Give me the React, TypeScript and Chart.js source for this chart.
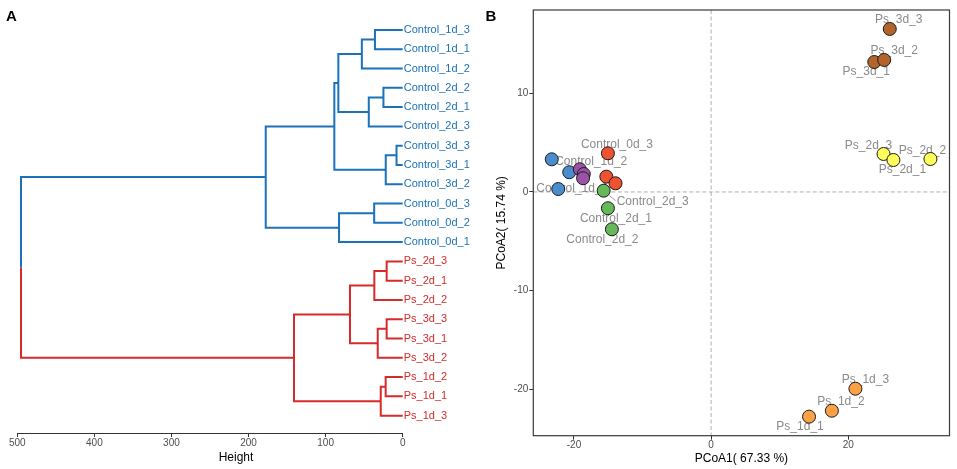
import React, { useEffect, useRef } from 'react';
import { Chart, registerables } from 'chart.js';

Chart.register(...registerables);

const FONT = '"Liberation Sans", Arial, Helvetica, sans-serif';

// ---------- Panel A: hierarchical clustering ----------
const leafLabels = [
  'Control_1d_3', 'Control_1d_1', 'Control_1d_2',
  'Control_2d_2', 'Control_2d_1', 'Control_2d_3',
  'Control_3d_3', 'Control_3d_1', 'Control_3d_2',
  'Control_0d_3', 'Control_0d_2', 'Control_0d_1',
  'Ps_2d_3', 'Ps_2d_1', 'Ps_2d_2',
  'Ps_3d_3', 'Ps_3d_1', 'Ps_3d_2',
  'Ps_1d_2', 'Ps_1d_1', 'Ps_1d_3',
];
// hclust-style merge table: negative = leaf (1-based), positive = earlier merge (1-based)
const mergeLeft = [-1, 1, -4, 3, 2, -7, 6, 5, -10, 9, 8, -13, 12, -16, 14, 13, -19, 17, 16, 11];
const mergeRight = [-2, -3, -5, -6, 4, -8, -9, 7, -11, -12, 10, -14, -15, -17, -18, 15, -20, -21, 18, 19];
const mergeHeight = [36, 53, 25, 44, 83.5, 8, 22, 88.7, 37, 82.6, 177.7, 20.8, 36.8, 20.8, 32.4, 68.4, 22.1, 28.5, 141, 495.2];
const heightTicks = [0, 100, 200, 300, 400, 500];

// ---------- Panel B: PCoA ----------
const pcoaSamples = [
  'Control_0d_1', 'Control_0d_2', 'Control_0d_3',
  'Control_1d_1', 'Control_1d_2', 'Control_1d_3',
  'Control_2d_1', 'Control_2d_2', 'Control_2d_3',
  'Control_3d_1', 'Control_3d_2', 'Control_3d_3',
  'Ps_1d_1', 'Ps_1d_2', 'Ps_1d_3',
  'Ps_2d_3', 'Ps_2d_1', 'Ps_2d_2',
  'Ps_3d_1', 'Ps_3d_2', 'Ps_3d_3',
];
const pcoa1 = [
  -15.28, -13.94, -15.05,
  -22.29, -20.69, -23.24,
  -15.05, -14.47, -15.67,
  -19.15, -18.57, -18.67,
  14.28, 17.61, 21.04,
  25.14, 26.58, 31.98,
  23.79, 25.24, 26.05,
];
const pcoa2 = [
  1.55, 0.88, 3.92,
  0.3, 2.0, 3.31,
  -1.65, -3.78, 0.13,
  2.3, 1.82, 1.39,
  -22.77, -22.17, -19.94,
  3.85, 3.24, 3.34,
  13.17, 13.38, 16.52,
];
const groupNames = ['Control_0d', 'Control_1d', 'Control_2d', 'Control_3d', 'Ps_1d', 'Ps_2d', 'Ps_3d'];
const xTicks = [-20, 0, 20];
const yTicks = [-20, -10, 0, 10];

// ---------- styles / layout ----------
const clusterColors = ['#1a72bb', '#d52b2b'];
const groupColors = ['#ef5230', '#4b8dcc', '#67b85a', '#9a52a6', '#fca146', '#ffff5a', '#b5632d'];
// repelled label offsets in pixels [dx, dy, drawSegment]
const labelNudge: Record<string, [number, number, boolean]> = {
  Control_0d_3: [9, -9, false],
  Control_1d_2: [22, -11, false],
  Control_1d_1: [14, -0.7, false],
  Control_2d_3: [49, 11, true],
  Control_2d_1: [8, 10, false],
  Control_2d_2: [-9.5, 10, false],
  Ps_3d_3: [9, -9, false],
  Ps_3d_2: [10, -9.3, false],
  Ps_3d_1: [-8, 9.7, false],
  Ps_2d_3: [-15, -8.3, false],
  Ps_2d_2: [-8, -8.3, false],
  Ps_2d_1: [9, 10, false],
  Ps_1d_3: [10, -8.7, false],
  Ps_1d_2: [9, -9, false],
  Ps_1d_1: [-9, 10, false],
};

const clusterOf = (name: string) => (name.startsWith('Control') ? 0 : 1);

function buildBranches() {
  const ny: number[] = [];
  const nh: number[] = [];
  const nc: number[] = [];
  const segs: { x: number; y: number | null }[][] = [[], []];
  const info = (r: number) =>
    r < 0
      ? { y: -r - 1, h: 0, c: clusterOf(leafLabels[-r - 1]) }
      : { y: ny[r - 1], h: nh[r - 1], c: nc[r - 1] };
  mergeHeight.forEach((h, k) => {
    const a = info(mergeLeft[k]);
    const b = info(mergeRight[k]);
    const y = (a.y + b.y) / 2;
    [a, b].forEach((ch) => {
      segs[ch.c].push({ x: h, y }, { x: h, y: ch.y }, { x: ch.h, y: ch.y }, { x: h, y: null });
    });
    ny.push(y);
    nh.push(h);
    nc.push(a.c === b.c ? a.c : -1);
  });
  return segs;
}

export default function App() {
  const refA = useRef<HTMLCanvasElement>(null);
  const refB = useRef<HTMLCanvasElement>(null);

  useEffect(() => {
    document.body.style.margin = '0';
    Chart.defaults.font.family = FONT;

    const branches = buildBranches();

    const heightTitle = {
      id: 'heightTitle',
      afterDraw(chart: any) {
        const { ctx } = chart;
        ctx.save();
        ctx.font = `12px ${FONT}`;
        ctx.fillStyle = '#000';
        ctx.textAlign = 'center';
        ctx.textBaseline = 'middle';
        ctx.fillText('Height', 236, 458);
        ctx.restore();
      },
    };

    const chartA = new Chart(refA.current!, {
      type: 'scatter',
      data: {
        datasets: branches.map((pts, c) => ({
          data: pts,
          showLine: true,
          borderColor: clusterColors[c],
          borderWidth: 2,
          borderJoinStyle: 'miter',
          pointRadius: 0,
          pointHoverRadius: 0,
          spanGaps: false,
          clip: false,
        })) as any,
      },
      options: {
        animation: false,
        responsive: false,
        events: [],
        layout: { padding: { left: 17.3, top: 10.7, right: 0, bottom: 0 } },
        plugins: { legend: { display: false }, tooltip: { enabled: false } },
        scales: {
          x: {
            type: 'linear',
            reverse: true,
            min: 0,
            max: 500,
            afterBuildTicks: (s: any) => {
              s.ticks = heightTicks.map((v) => ({ value: v }));
            },
            afterFit: (s: any) => {
              s.height = 36;
            },
            border: { display: true, color: '#333', width: 1 },
            grid: { drawOnChartArea: false, drawTicks: true, tickLength: 4, tickColor: '#333' },
            ticks: { color: '#4d4d4d', font: { size: 10 }, padding: 0, maxRotation: 0 },
          },
          y: {
            type: 'linear',
            position: 'right',
            reverse: true,
            min: -1,
            max: 20.9,
            afterBuildTicks: (s: any) => {
              s.ticks = leafLabels.map((_, i) => ({ value: i }));
            },
            afterFit: (s: any) => {
              s.width = 75.3;
            },
            border: { display: false },
            grid: { display: false, drawTicks: false },
            ticks: {
              autoSkip: false,
              padding: 1,
              font: { size: 11 },
              color: (ctx: any) => clusterColors[clusterOf(leafLabels[ctx.tick.value])],
              callback: (v: any) => leafLabels[v],
            },
          },
        },
      },
      plugins: [heightTitle],
    });

    const pcoaDecor = {
      id: 'pcoaDecor',
      beforeDatasetsDraw(chart: any) {
        const { ctx, chartArea: ca, scales } = chart;
        const xs = scales.x;
        const ys = scales.y;
        ctx.save();
        // zero reference lines
        ctx.setLineDash([4, 2.5]);
        ctx.strokeStyle = '#a6a6a6';
        ctx.lineWidth = 0.9;
        const x0 = xs.getPixelForValue(0);
        const y0 = ys.getPixelForValue(0);
        ctx.beginPath();
        ctx.moveTo(x0, ca.top);
        ctx.lineTo(x0, ca.bottom);
        ctx.moveTo(ca.left, y0);
        ctx.lineTo(ca.right, y0);
        ctx.stroke();
        ctx.setLineDash([]);
        // sample labels
        ctx.font = `12px ${FONT}`;
        ctx.textAlign = 'center';
        ctx.textBaseline = 'middle';
        pcoaSamples.forEach((name, i) => {
          const nd = labelNudge[name];
          if (!nd) return;
          const px = xs.getPixelForValue(pcoa1[i]);
          const py = ys.getPixelForValue(pcoa2[i]);
          const lx = px + nd[0];
          const ly = py + nd[1];
          if (nd[2]) {
            const w = ctx.measureText(name).width;
            const ex = lx - w / 2 - 1;
            const ey = ly - 1;
            const d = Math.hypot(ex - px, ey - py);
            ctx.strokeStyle = '#808080';
            ctx.lineWidth = 0.8;
            ctx.beginPath();
            ctx.moveTo(px + ((ex - px) / d) * 7.5, py + ((ey - py) / d) * 7.5);
            ctx.lineTo(ex, ey);
            ctx.stroke();
          }
          ctx.fillStyle = '#8a8a8a';
          ctx.fillText(name, lx, ly);
        });
        ctx.restore();
      },
      afterDraw(chart: any) {
        const { ctx, chartArea: ca } = chart;
        ctx.save();
        ctx.strokeStyle = '#3a3a3a';
        ctx.lineWidth = 1.2;
        ctx.strokeRect(ca.left, ca.top, ca.right - ca.left, ca.bottom - ca.top);
        ctx.restore();
      },
    };

    const groupOf = (name: string) => name.slice(0, name.lastIndexOf('_'));

    const chartB = new Chart(refB.current!, {
      type: 'scatter',
      data: {
        datasets: groupNames.map((g, gi) => ({
          label: g,
          data: pcoaSamples
            .map((n, i) => ({ n, x: pcoa1[i], y: pcoa2[i] }))
            .filter((p) => groupOf(p.n) === g)
            .map((p) => ({ x: p.x, y: p.y })),
          backgroundColor: groupColors[gi],
          borderColor: '#1a1a1a',
          borderWidth: 1,
          pointRadius: 6.5,
          pointHoverRadius: 6.5,
          order: groupNames.length - gi,
          clip: false,
        })) as any,
      },
      options: {
        animation: false,
        responsive: false,
        events: [],
        layout: { padding: { left: 0, top: 10, right: 4.3, bottom: 0 } },
        plugins: { legend: { display: false }, tooltip: { enabled: false } },
        scales: {
          x: {
            type: 'linear',
            min: -25.93,
            max: 34.76,
            afterBuildTicks: (s: any) => {
              s.ticks = xTicks.map((v) => ({ value: v }));
            },
            afterFit: (s: any) => {
              s.height = 33.3;
            },
            border: { display: false },
            grid: { drawOnChartArea: false, drawTicks: true, tickLength: 4, tickColor: '#333' },
            ticks: { color: '#4d4d4d', font: { size: 10 }, padding: 0, maxRotation: 0 },
            title: {
              display: true,
              text: 'PCoA1( 67.33 %)',
              color: '#000',
              font: { size: 12 },
              padding: { top: 0, bottom: 3.5 },
            },
          },
          y: {
            type: 'linear',
            min: -24.7,
            max: 18.44,
            afterBuildTicks: (s: any) => {
              s.ticks = yTicks.map((v) => ({ value: v }));
            },
            afterFit: (s: any) => {
              s.width = 53.3;
            },
            border: { display: false },
            grid: { drawOnChartArea: false, drawTicks: true, tickLength: 4, tickColor: '#333' },
            ticks: { color: '#4d4d4d', font: { size: 10 }, padding: 1 },
            title: {
              display: true,
              text: 'PCoA2( 15.74 %)',
              color: '#000',
              font: { size: 12 },
              padding: { top: 14.5, bottom: 0 },
            },
          },
        },
      },
      plugins: [pcoaDecor],
    });

    return () => {
      chartA.destroy();
      chartB.destroy();
    };
  }, []);

  const letter: React.CSSProperties = {
    position: 'absolute',
    top: 8,
    fontSize: 15,
    lineHeight: '15px',
    fontWeight: 'bold',
    fontFamily: FONT,
    color: '#000',
  };

  return (
    <div style={{ position: 'relative', width: 957, height: 469, background: '#fff' }}>
      <canvas ref={refA} width={478} height={469} style={{ position: 'absolute', left: 0, top: 0 }} />
      <canvas ref={refB} width={477} height={469} style={{ position: 'absolute', left: 480, top: 0 }} />
      <div style={{ ...letter, left: 6 }}>A</div>
      <div style={{ ...letter, left: 485.6 }}>B</div>
    </div>
  );
}
